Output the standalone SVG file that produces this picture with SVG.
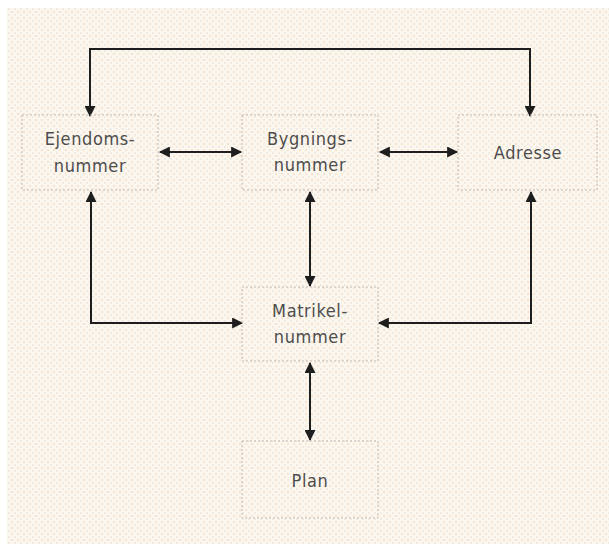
<svg xmlns="http://www.w3.org/2000/svg" width="609" height="544" viewBox="0 0 609 544">
  <style>
    .box { fill: none; stroke: #c4b8ab; stroke-width: 1; stroke-dasharray: 2 2; }
    .lbl { font-family: "DejaVu Sans Condensed", "Liberation Sans", Arial, sans-serif; font-stretch: condensed; font-size: 18px; letter-spacing: 0.6px; fill: #4d4d4d; text-anchor: middle; }
    .con { fill: none; stroke: #1e1e1e; stroke-width: 2; }
  </style>
  <defs>
    <pattern id="dither" width="6" height="6" patternUnits="userSpaceOnUse">
      <rect width="6" height="6" fill="#fcf7ee"/>
      <circle cx="0" cy="0" r="1.1" fill="#f6e0c9"/>
      <circle cx="6" cy="0" r="1.1" fill="#f6e0c9"/>
      <circle cx="0" cy="6" r="1.1" fill="#f6e0c9"/>
      <circle cx="6" cy="6" r="1.1" fill="#f6e0c9"/>
      <circle cx="3" cy="3" r="1.1" fill="#ece8e1"/>
    </pattern>
    <marker id="head" viewBox="0 0 10 10" refX="9" refY="5" markerWidth="6" markerHeight="5.5" orient="auto-start-reverse" markerUnits="strokeWidth">
      <path d="M0,0 L10,5 L0,10 Z" fill="#1e1e1e"/>
    </marker>
  </defs>

  <!-- backdrop -->
  <rect x="0" y="0" width="609" height="544" fill="#ffffff"/>
  <rect x="7" y="8" width="602" height="536" fill="url(#dither)"/>

  <!-- connectors -->
  <g id="connectors">
    <polyline class="con" points="90,116 90,49 530,49 530,116" marker-start="url(#head)" marker-end="url(#head)"/>
    <line class="con" x1="160" y1="152" x2="241" y2="152" marker-start="url(#head)" marker-end="url(#head)"/>
    <line class="con" x1="380" y1="152" x2="457" y2="152" marker-start="url(#head)" marker-end="url(#head)"/>
    <line class="con" x1="310" y1="192" x2="310" y2="286" marker-start="url(#head)" marker-end="url(#head)"/>
    <line class="con" x1="310" y1="363" x2="310" y2="440" marker-start="url(#head)" marker-end="url(#head)"/>
    <polyline class="con" points="91,192 91,323 242,323" marker-start="url(#head)" marker-end="url(#head)"/>
    <polyline class="con" points="531,192 531,323 379,323" marker-start="url(#head)" marker-end="url(#head)"/>
  </g>

  <!-- nodes -->
  <g id="ejendomsnummer">
    <rect class="box" x="22" y="115" width="136" height="75"/>
    <text class="lbl" x="90" y="145">Ejendoms-</text>
    <text class="lbl" x="90" y="172">nummer</text>
  </g>
  <g id="bygningsnummer">
    <rect class="box" x="242" y="115" width="136" height="75"/>
    <text class="lbl" x="310" y="145">Bygnings-</text>
    <text class="lbl" x="310" y="171">nummer</text>
  </g>
  <g id="adresse">
    <rect class="box" x="458" y="115" width="139" height="75"/>
    <text class="lbl" x="528" y="159">Adresse</text>
  </g>
  <g id="matrikelnummer">
    <rect class="box" x="242" y="287" width="136" height="74"/>
    <text class="lbl" x="310" y="317">Matrikel-</text>
    <text class="lbl" x="310" y="343">nummer</text>
  </g>
  <g id="plan">
    <rect class="box" x="242" y="441" width="136" height="77"/>
    <text class="lbl" x="310" y="487">Plan</text>
  </g>
</svg>
